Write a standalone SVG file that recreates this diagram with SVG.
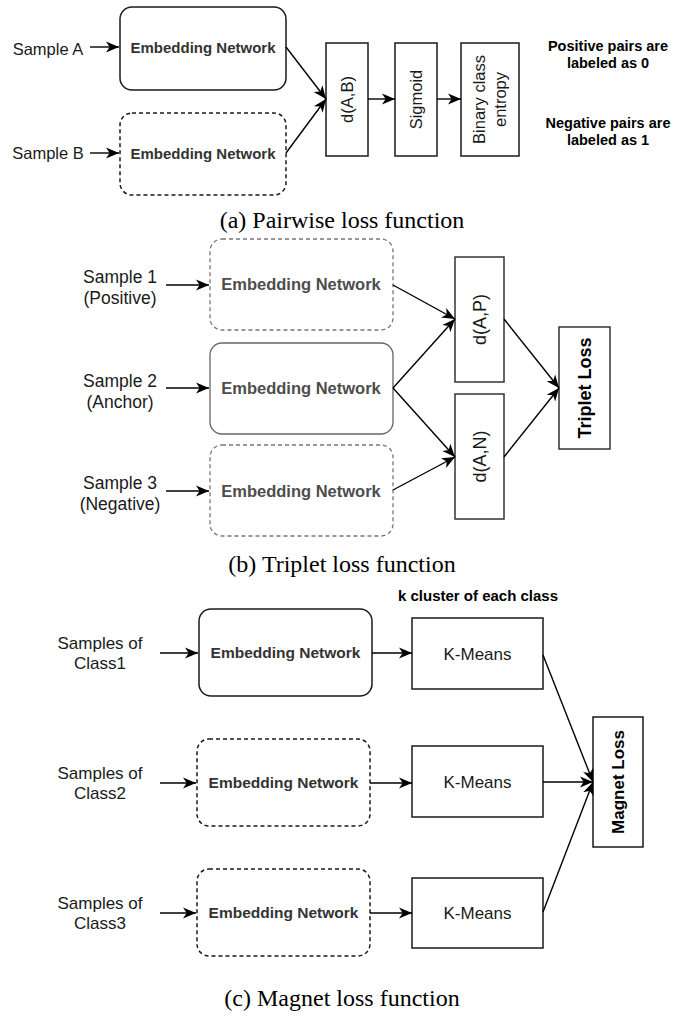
<svg xmlns="http://www.w3.org/2000/svg" width="697" height="1017" viewBox="0 0 697 1017">
<defs>
<marker id="arr" markerUnits="userSpaceOnUse" markerWidth="13" markerHeight="13" refX="10" refY="5" orient="auto" viewBox="0 0 10 10">
<path d="M0,0.8 L10,5 L0,9.2 L2.8,5 z" fill="#000"/>
</marker>
<style>
.sans{font-family:"Liberation Sans",Arial,sans-serif;}
.serif{font-family:"Liberation Serif","Times New Roman",serif;font-size:24px;fill:#000;}
.box{fill:#fff;stroke:#1a1a1a;stroke-width:1.5;}
.dash{stroke-dasharray:4 3;}
.gbox{fill:#fff;stroke:#777;stroke-width:1.3;}
.emb{font-weight:bold;fill:#333;text-anchor:middle;}
.lbl{fill:#1a1a1a;text-anchor:middle;}
.bl{font-weight:bold;fill:#000;text-anchor:middle;}
.edge{fill:none;stroke:#000;stroke-width:1.4;marker-end:url(#arr);}
</style>
</defs>

<!-- (a) Pairwise -->
<g id="a-sampleA"><text class="sans" x="48" y="55" font-size="16.5" fill="#1a1a1a" text-anchor="middle">Sample A</text></g>
<g id="a-sampleB"><text class="sans" x="48" y="159" font-size="16.5" fill="#1a1a1a" text-anchor="middle">Sample B</text></g>
<g id="a-embA"><rect class="box" x="120" y="7" width="166" height="83" rx="12"/><text class="sans emb" x="203" y="53" font-size="15">Embedding Network</text></g>
<g id="a-embB"><rect class="box dash" x="120" y="113" width="166" height="82" rx="12"/><text class="sans emb" x="203" y="159" font-size="15">Embedding Network</text></g>
<g id="a-dab"><rect class="box" x="326" y="43" width="42" height="113"/><text class="sans lbl" transform="translate(347,99.5) rotate(-90)" x="0" y="6" font-size="16.5">d(A,B)</text></g>
<g id="a-sig"><rect class="box" x="395" y="43" width="42" height="113"/><text class="sans lbl" transform="translate(416,99.5) rotate(-90)" x="0" y="6" font-size="16.5">Sigmoid</text></g>
<g id="a-bce"><rect class="box" x="461" y="43" width="58" height="113"/><text class="sans lbl" transform="translate(480,99.5) rotate(-90)" x="0" y="5" font-size="16.5">Binary class</text><text class="sans lbl" transform="translate(501,99.5) rotate(-90)" x="0" y="5" font-size="16.5">entropy</text></g>
<g id="a-pos"><text class="sans bl" x="608" y="51" font-size="14.5">Positive pairs are</text><text class="sans bl" x="608" y="68" font-size="14.5">labeled as 0</text></g>
<g id="a-neg"><text class="sans bl" x="608" y="128" font-size="14.5">Negative pairs are</text><text class="sans bl" x="608" y="145" font-size="14.5">labeled as 1</text></g>
<g id="a-caption"><text class="serif" x="342" y="228" text-anchor="middle">(a) Pairwise loss function</text></g>

<!-- (b) Triplet -->
<g id="b-s1"><text class="sans lbl" x="120" y="283" font-size="17.5">Sample 1</text><text class="sans lbl" x="120" y="304" font-size="17.5">(Positive)</text></g>
<g id="b-s2"><text class="sans lbl" x="120" y="387" font-size="17.5">Sample 2</text><text class="sans lbl" x="120" y="408" font-size="17.5">(Anchor)</text></g>
<g id="b-s3"><text class="sans lbl" x="120" y="489" font-size="17.5">Sample 3</text><text class="sans lbl" x="120" y="510" font-size="17.5">(Negative)</text></g>
<g id="b-emb1"><rect class="gbox dash" x="210" y="239" width="183" height="91" rx="12"/><text class="sans emb" x="301" y="290" font-size="16.5" style="fill:#4d4d4d">Embedding Network</text></g>
<g id="b-emb2"><rect class="gbox" x="210" y="343" width="183" height="91" rx="12" style="stroke:#666"/><text class="sans emb" x="301" y="394" font-size="16.5" style="fill:#4d4d4d">Embedding Network</text></g>
<g id="b-emb3"><rect class="gbox dash" x="210" y="445" width="183" height="91" rx="12"/><text class="sans emb" x="301" y="497" font-size="16.5" style="fill:#4d4d4d">Embedding Network</text></g>
<g id="b-dap"><rect class="box" x="455" y="257" width="49" height="125" style="stroke:#333"/><text class="sans lbl" transform="translate(479.5,319.5) rotate(-90)" x="0" y="6.5" font-size="18">d(A,P)</text></g>
<g id="b-dan"><rect class="box" x="455" y="394" width="49" height="125" style="stroke:#333"/><text class="sans lbl" transform="translate(479.5,456.5) rotate(-90)" x="0" y="6.5" font-size="18">d(A,N)</text></g>
<g id="b-triplet"><rect class="box" x="559" y="327" width="51" height="122" style="stroke:#333"/><text class="sans bl" transform="translate(584.5,388) rotate(-90)" x="0" y="6.5" font-size="18">Triplet Loss</text></g>
<g id="b-caption"><text class="serif" x="342" y="572" text-anchor="middle">(b) Triplet loss function</text></g>

<!-- (c) Magnet -->
<g id="c-k"><text class="sans bl" x="478" y="601" font-size="15">k cluster of each class</text></g>
<g id="c-s1"><text class="sans lbl" x="100" y="649" font-size="17">Samples of</text><text class="sans lbl" x="100" y="669" font-size="17">Class1</text></g>
<g id="c-s2"><text class="sans lbl" x="100" y="779" font-size="17">Samples of</text><text class="sans lbl" x="100" y="799" font-size="17">Class2</text></g>
<g id="c-s3"><text class="sans lbl" x="100" y="909" font-size="17">Samples of</text><text class="sans lbl" x="100" y="929" font-size="17">Class3</text></g>
<g id="c-emb1"><rect class="box" x="199" y="609" width="173" height="87" rx="12"/><text class="sans emb" x="285.5" y="658" font-size="15.5">Embedding Network</text></g>
<g id="c-emb2"><rect class="box dash" x="197" y="739" width="173" height="87" rx="12"/><text class="sans emb" x="283.5" y="788" font-size="15.5">Embedding Network</text></g>
<g id="c-emb3"><rect class="box dash" x="197" y="869" width="173" height="87" rx="12"/><text class="sans emb" x="283.5" y="918" font-size="15.5">Embedding Network</text></g>
<g id="c-km1"><rect class="box" x="412" y="618" width="131" height="71"/><text class="sans lbl" x="477.5" y="660" font-size="17">K-Means</text></g>
<g id="c-km2"><rect class="box" x="412" y="746" width="131" height="71"/><text class="sans lbl" x="477.5" y="788" font-size="17">K-Means</text></g>
<g id="c-km3"><rect class="box" x="412" y="878" width="131" height="70"/><text class="sans lbl" x="477.5" y="919" font-size="17">K-Means</text></g>
<g id="c-magnet"><rect class="box" x="593" y="717" width="50" height="130"/><text class="sans bl" transform="translate(618,782) rotate(-90)" x="0" y="6" font-size="17">Magnet Loss</text></g>
<g id="c-caption"><text class="serif" x="342" y="1006" text-anchor="middle">(c) Magnet loss function</text></g>

<g id="connectors">
<path class="edge" d="M90,47 L119,47"/>
<path class="edge" d="M90,153 L119,153"/>
<path class="edge" d="M286,47 L326,99"/>
<path class="edge" d="M286,153 L326,99"/>
<path class="edge" d="M368,99 L395,99"/>
<path class="edge" d="M437,99 L461,99"/>

<path class="edge" d="M166,285 L209,285"/>
<path class="edge" d="M166,388 L209,388"/>
<path class="edge" d="M166,491 L209,491"/>
<path class="edge" d="M393,285 L455,319"/>
<path class="edge" d="M393,388 L455,319"/>
<path class="edge" d="M393,388 L455,457"/>
<path class="edge" d="M393,490 L455,457"/>
<path class="edge" d="M504,319 L559,388"/>
<path class="edge" d="M504,457 L559,388"/>

<path class="edge" d="M160,653 L198,653"/>
<path class="edge" d="M160,783 L196,783"/>
<path class="edge" d="M160,913 L196,913"/>
<path class="edge" d="M372,653 L412,653"/>
<path class="edge" d="M370,783 L412,783"/>
<path class="edge" d="M370,913 L412,913"/>
<path class="edge" d="M543,655 L593,782"/>
<path class="edge" d="M543,782 L593,782"/>
<path class="edge" d="M543,912 L593,782"/>
</g>
</svg>
